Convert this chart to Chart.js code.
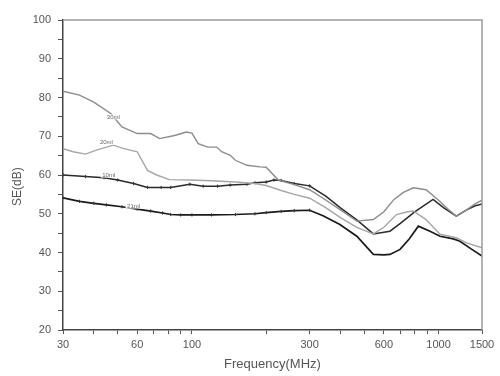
<!DOCTYPE html>
<html>
<head>
<meta charset="utf-8">
<script src="https://cdn.jsdelivr.net/npm/chart.js@4/dist/chart.umd.min.js"></script>
<style>
  html, body { margin: 0; padding: 0; background: #fff; }
  #wrap { width: 500px; height: 376px; position: relative; }
</style>
</head>
<body>
<div id="wrap"><canvas id="chartCanvas"></canvas></div>
<script>
// --- data ---
const freq30 = [30, 35, 40, 47, 52, 60, 68, 74, 85, 95, 100, 106, 116, 126, 132, 143, 150, 167, 189, 200, 224, 260, 300, 340, 400, 466, 544, 600, 660, 720, 790, 890, 1000, 1100, 1180, 1300, 1400, 1500];
const se30 = [81.6, 80.6, 78.8, 75.8, 72.4, 70.7, 70.7, 69.4, 70.2, 71.1, 70.8, 68.1, 67.2, 67.2, 66, 65.1, 63.8, 62.5, 62.1, 62, 58.7, 57.5, 56.2, 54, 51, 48.1, 48.5, 50.5, 53.7, 55.5, 56.7, 56.2, 53.5, 51, 49.4, 51, 52.5, 53.5];

const freq20 = [30, 33, 37, 41, 48, 53, 60, 66, 72, 81, 98, 120, 150, 180, 200, 230, 260, 300, 350, 400, 466, 544, 600, 675, 750, 790, 890, 1014, 1180, 1300, 1500];
const se20 = [66.8, 66, 65.4, 66.4, 67.7, 66.8, 66, 61.2, 60, 58.8, 58.7, 58.5, 58.2, 57.8, 57.3, 56, 55, 54, 51.5, 49, 46.5, 44.8, 46.5, 49.8, 50.5, 50.7, 48.5, 44.7, 43.8, 42.5, 41.2];

const freq10 = [30, 37, 44, 50, 58, 66, 75, 82, 98, 111, 127, 143, 167, 180, 200, 215, 230, 260, 300, 350, 400, 466, 544, 635, 700, 800, 950, 1050, 1180, 1300, 1400, 1500];
const se10 = [60, 59.6, 59.3, 58.7, 57.8, 56.8, 56.8, 56.8, 57.6, 57.1, 57.1, 57.4, 57.6, 58.0, 58.2, 58.7, 58.6, 57.8, 57.2, 54.5, 51.5, 48.4, 44.8, 45.5, 47.5, 50.5, 53.7, 51.5, 49.4, 51, 52, 52.5];

const freq21 = [30, 35, 40, 45, 52, 60, 68, 76, 82, 90, 100, 120, 150, 180, 200, 230, 260, 300, 340, 398, 466, 544, 600, 635, 698, 760, 828, 923, 1014, 1148, 1221, 1350, 1500];
const se21 = [54.1, 53.2, 52.7, 52.3, 51.8, 51.2, 50.7, 50.2, 49.8, 49.7, 49.7, 49.7, 49.8, 50.0, 50.3, 50.6, 50.8, 50.9, 49.5, 47.2, 44.2, 39.5, 39.4, 39.5, 40.8, 43.5, 46.8, 45.5, 44.2, 43.5, 42.9, 41, 39.1];

const xTicks = [30, 40, 50, 60, 70, 80, 90, 100, 200, 300, 400, 500, 600, 700, 800, 900, 1000, 1500];
const xLabels = [30, 60, 100, 300, 600, 1000, 1500];
const curveNames = ["30ml", "20ml", "10ml", "21ml"];
const nameAt = [[48, 75], [45, 68.5], [46, 60], [58, 52]];

const toPts = (xs, ys) => xs.map((x, i) => ({ x, y: ys[i] }));
const markerRadius = (ctx) => (ctx.raw && ctx.raw.x <= 300 ? 1.6 : 0);

// frame, curve name tags, y title
const frameAndTags = {
  id: "frameAndTags",
  afterDatasetsDraw(chart) {
    const { ctx, chartArea: a, scales } = chart;
    ctx.save();
    ctx.strokeStyle = "#9a9a9a";
    ctx.lineWidth = 1.5;
    ctx.beginPath();
    ctx.moveTo(a.left, a.top);
    ctx.lineTo(a.right, a.top);
    ctx.lineTo(a.right, a.bottom);
    ctx.stroke();

    ctx.font = "6px 'Liberation Sans'";
    ctx.textAlign = "center";
    ctx.textBaseline = "middle";
    curveNames.forEach((n, i) => {
      const x = scales.x.getPixelForValue(nameAt[i][0]);
      const y = scales.y.getPixelForValue(nameAt[i][1]);
      ctx.fillStyle = "#fff";
      ctx.fillRect(x - 8, y - 2.5, 16, 5);
      ctx.fillStyle = "#666";
      ctx.fillText(n, x, y);
    });

    // y axis title, sits a little below the middle as in the original
    ctx.translate(18, scales.y.getPixelForValue(57));
    ctx.rotate(-Math.PI / 2);
    ctx.font = "12px 'Liberation Sans'";
    ctx.fillStyle = "#555";
    ctx.fillText("SE(dB)", 0, 0);
    ctx.restore();
  }
};

new Chart(document.getElementById("chartCanvas"), {
  type: "line",
  data: {
    datasets: [
      { label: "30ml", data: toPts(freq30, se30), borderColor: "#8c8c8c", borderWidth: 1.4, pointRadius: 0 },
      { label: "20ml", data: toPts(freq20, se20), borderColor: "#a6a6a6", borderWidth: 1.4, pointRadius: 0 },
      { label: "10ml", data: toPts(freq10, se10), borderColor: "#2a2a2a", borderWidth: 1.5,
        pointStyle: "cross", pointRadius: markerRadius, pointBorderColor: "#333", pointBorderWidth: 1 },
      { label: "21ml", data: toPts(freq21, se21), borderColor: "#1a1a1a", borderWidth: 1.7,
        pointStyle: "cross", pointRadius: markerRadius, pointBorderColor: "#333", pointBorderWidth: 1 }
    ]
  },
  options: {
    responsive: true,
    maintainAspectRatio: false,
    animation: false,
    layout: { padding: { top: 20, right: 18, left: 0, bottom: 0 } },
    plugins: { legend: { display: false }, tooltip: { enabled: false } },
    scales: {
      x: {
        type: "logarithmic",
        min: 30,
        max: 1500,
        afterBuildTicks: (s) => { s.ticks = xTicks.map(v => ({ value: v })); },
        afterFit: (s) => { s.height = 46; },
        border: { color: "#444", width: 1.5 },
        grid: { drawOnChartArea: false, tickLength: 4, tickColor: "#555" },
        ticks: {
          autoSkip: false, maxRotation: 0, padding: 4,
          color: "#555", font: { family: "Liberation Sans", size: 11 },
          callback: (v) => (xLabels.includes(v) ? String(v) : "")
        },
        title: { display: true, text: "Frequency(MHz)", color: "#555", padding: { top: 1 },
          font: { family: "Liberation Sans", size: 13 } }
      },
      y: {
        min: 20,
        max: 100,
        afterFit: (s) => { s.width = 63; },
        border: { color: "#444", width: 1.5 },
        grid: { drawOnChartArea: false, tickLength: 5, tickColor: "#555" },
        ticks: {
          stepSize: 5, padding: 7,
          color: "#555", font: { family: "Liberation Sans", size: 11 },
          callback: (v) => (v % 10 === 0 ? String(v) : "")
        }
      }
    }
  },
  plugins: [frameAndTags]
});
</script>
</body>
</html>
